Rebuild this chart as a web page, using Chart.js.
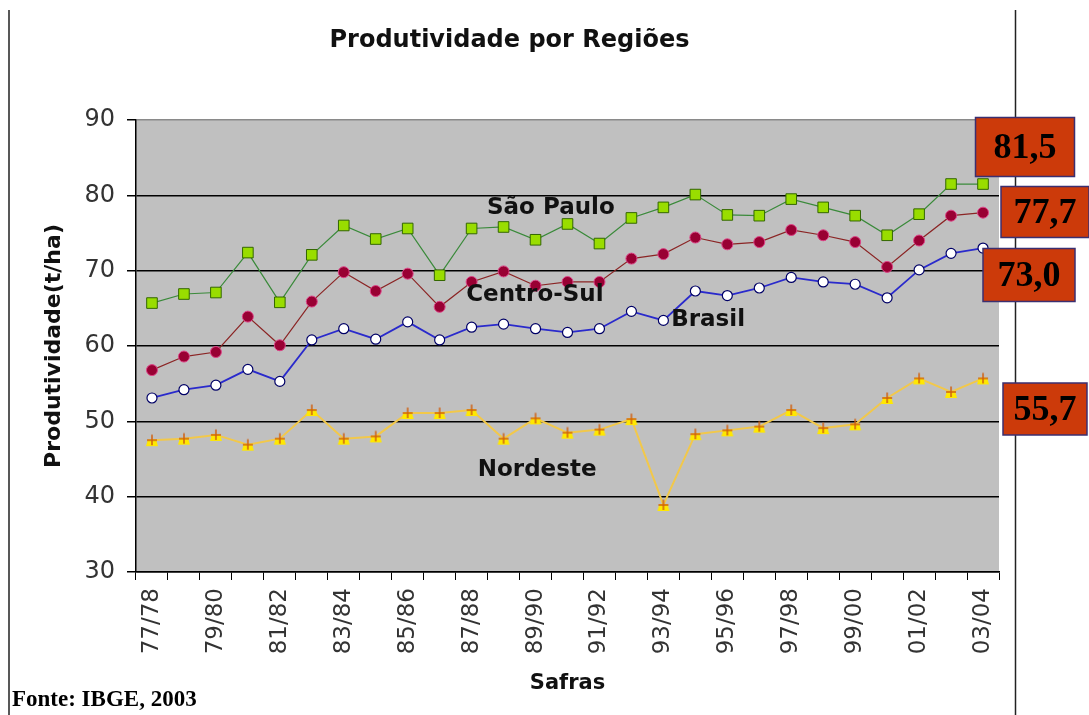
<!DOCTYPE html>
<html>
<head>
<meta charset="utf-8">
<script src="https://cdn.jsdelivr.net/npm/chart.js@4"></script>
<style>
  html, body { margin: 0; padding: 0; background: #fff; }
  #wrap { width: 1089px; height: 715px; }
</style>
</head>
<body>
<div id="wrap"><canvas id="chart" width="1089" height="715"></canvas></div>
<script>
const safras = ['77/78', '78/79', '79/80', '80/81', '81/82', '82/83', '83/84', '84/85', '85/86',
  '86/87', '87/88', '88/89', '89/90', '90/91', '91/92', '92/93', '93/94', '94/95', '95/96',
  '96/97', '97/98', '98/99', '99/00', '00/01', '01/02', '02/03', '03/04'];

const saoPaulo = [65.7, 66.9, 67.1, 72.4, 65.8, 72.1, 76.0, 74.2, 75.6, 69.4, 75.6, 75.8, 74.1, 76.2,
  73.6, 77.0, 78.4, 80.1, 77.4, 77.3, 79.5, 78.4, 77.3, 74.7, 77.5, 81.5, 81.5];
const centroSul = [56.8, 58.6, 59.2, 63.9, 60.1, 65.9, 69.8, 67.3, 69.6, 65.2, 68.5, 69.9, 68.0, 68.5,
  68.5, 71.6, 72.2, 74.4, 73.5, 73.8, 75.4, 74.7, 73.8, 70.5, 74.0, 77.3, 77.7];
const brasil = [53.1, 54.2, 54.8, 56.9, 55.3, 60.8, 62.3, 60.9, 63.2, 60.8, 62.5, 62.9, 62.3, 61.8,
  62.3, 64.6, 63.4, 67.3, 66.7, 67.7, 69.1, 68.5, 68.2, 66.4, 70.1, 72.3, 73.0];
const nordeste = [47.5, 47.7, 48.2, 46.9, 47.7, 51.5, 47.7, 48.0, 51.1, 51.1, 51.5, 47.7, 50.4, 48.5,
  48.9, 50.3, 38.9, 48.3, 48.8, 49.3, 51.5, 49.1, 49.6, 53.1, 55.7, 53.9, 55.7];

const yTicks = [30, 40, 50, 60, 70, 80, 90];

// series name labels inside the plot: [text, category index, value]
const seriesLabels = [
  ['São Paulo', 12.48, 78.3],
  ['Centro-Sul', 11.98, 66.8],
  ['Brasil', 17.4, 63.45],
  ['Nordeste', 12.05, 43.5]
];

// boxes with the last value of each series (pixel centre, size)
const lastBoxes = [
  [saoPaulo, 1025, 147, 99, 59],
  [centroSul, 1045, 212, 88, 51],
  [brasil, 1029, 275, 92, 53],
  [nordeste, 1045, 409, 84, 52]
];

function fmt(v) {
  return v.toFixed(1).replace('.', ',');
}

function makeNordesteMarker() {
  const c = document.createElement('canvas');
  c.width = 14;
  c.height = 14;
  const g = c.getContext('2d');
  g.fillStyle = '#ffe800';
  g.beginPath();
  g.moveTo(1, 13);
  g.lineTo(3, 6);
  g.lineTo(11, 6);
  g.lineTo(13, 13);
  g.closePath();
  g.fill();
  g.strokeStyle = '#d06010';
  g.lineWidth = 1.5;
  g.beginPath();
  g.moveTo(7, 1.5);
  g.lineTo(7, 12);
  g.moveTo(2, 7);
  g.lineTo(12, 7);
  g.stroke();
  return c;
}

const decor = {
  id: 'decor',
  beforeDraw(chart) {
    const { ctx, chartArea: a } = chart;
    ctx.save();
    ctx.fillStyle = '#c0c0c0';
    ctx.fillRect(a.left, a.top, a.right - a.left, a.bottom - a.top);
    ctx.restore();
  },
  afterDraw(chart) {
    const { ctx } = chart;
    const xs = chart.scales.x, ys = chart.scales.y;
    ctx.save();

    // frame lines left and right
    ctx.strokeStyle = '#222';
    ctx.lineWidth = 1.5;
    ctx.beginPath();
    ctx.moveTo(9, 10); ctx.lineTo(9, 715);
    ctx.moveTo(1015.5, 10); ctx.lineTo(1015.5, 715);
    ctx.stroke();

    // series names
    ctx.fillStyle = '#111';
    ctx.font = 'bold 23px "DejaVu Sans"';
    ctx.textAlign = 'center';
    ctx.textBaseline = 'middle';
    seriesLabels.forEach(([t, i, v]) => {
      ctx.fillText(t, xs.getPixelForValue(i), ys.getPixelForValue(v));
    });

    // last value boxes
    lastBoxes.forEach(([arr, cx, cy, w, h]) => {
      ctx.fillStyle = '#cc3a0a';
      ctx.fillRect(cx - w / 2, cy - h / 2, w, h);
      ctx.strokeStyle = '#3b2f70';
      ctx.lineWidth = 1.5;
      ctx.strokeRect(cx - w / 2, cy - h / 2, w, h);
      ctx.fillStyle = '#000';
      ctx.font = 'bold 36px "Liberation Serif"';
      ctx.fillText(fmt(arr[arr.length - 1]), cx, cy + 2);
    });

    // source
    ctx.textAlign = 'left';
    ctx.textBaseline = 'alphabetic';
    ctx.font = 'bold 23px "Liberation Serif"';
    ctx.fillText('Fonte: IBGE, 2003', 12, 706);
    ctx.restore();
  }
};

new Chart(document.getElementById('chart'), {
  type: 'line',
  data: {
    labels: safras,
    datasets: [
      {
        label: 'São Paulo',
        data: saoPaulo,
        borderColor: '#3a8a3a',
        borderWidth: 1.2,
        pointStyle: 'rect',
        pointRadius: 7.5,
        pointBackgroundColor: '#99dd00',
        pointBorderColor: '#336600',
        pointBorderWidth: 1
      },
      {
        label: 'Centro-Sul',
        data: centroSul,
        borderColor: '#8b2525',
        borderWidth: 1.2,
        pointStyle: 'circle',
        pointRadius: 5.5,
        pointBackgroundColor: '#990033',
        pointBorderColor: '#dd4488',
        pointBorderWidth: 1
      },
      {
        label: 'Brasil',
        data: brasil,
        borderColor: '#2a2acc',
        borderWidth: 1.8,
        pointStyle: 'circle',
        pointRadius: 5,
        pointBackgroundColor: '#ffffff',
        pointBorderColor: '#000066',
        pointBorderWidth: 1.2
      },
      {
        label: 'Nordeste',
        data: nordeste,
        borderColor: '#f2c84a',
        borderWidth: 2,
        pointStyle: makeNordesteMarker(),
        pointRadius: 7
      }
    ]
  },
  options: {
    responsive: false,
    animation: false,
    events: [],
    layout: { padding: { left: 20, right: 90, top: 0, bottom: 0 } },
    plugins: {
      legend: { display: false },
      tooltip: { enabled: false },
      title: {
        display: true,
        text: 'Produtividade por Regiões',
        color: '#111',
        font: { family: 'DejaVu Sans', size: 24, weight: 'bold', lineHeight: 1.2 },
        padding: { top: 26, bottom: 65.2 }
      }
    },
    scales: {
      x: {
        type: 'category',
        offset: true,
        grid: {
          display: true,
          offset: true,
          drawOnChartArea: false,
          drawTicks: true,
          tickLength: 8,
          color: '#000'
        },
        border: { color: '#000', width: 1.5 },
        ticks: {
          autoSkip: false,
          maxRotation: 90,
          minRotation: 90,
          padding: 8,
          color: '#333',
          font: { family: 'DejaVu Sans', size: 23 },
          callback: (v, i) => (i % 2 === 0 ? safras[i] : '')
        },
        title: {
          display: true,
          text: 'Safras',
          color: '#111',
          font: { family: 'DejaVu Sans', size: 21, weight: 'bold', lineHeight: 1.2 },
          padding: { top: 4, bottom: 19 }
        },
        afterFit: (s) => { s.height = 143; }
      },
      y: {
        min: yTicks[0],
        max: yTicks[yTicks.length - 1],
        afterBuildTicks: (s) => { s.ticks = yTicks.map(v => ({ value: v })); },
        grid: {
          color: (c) => (c.tick && c.tick.value === 90 ? '#8a8a8a' : '#000'),
          tickColor: '#000',
          lineWidth: 1.5,
          tickLength: 9
        },
        border: { color: '#000', width: 1.5 },
        ticks: {
          padding: 12,
          color: '#333',
          font: { family: 'DejaVu Sans', size: 24 }
        },
        title: {
          display: true,
          text: 'Produtividade(t/ha)',
          color: '#111',
          font: { family: 'DejaVu Sans', size: 22, weight: 'bold', lineHeight: 1.2 },
          padding: { top: 21, bottom: 0 }
        },
        afterFit: (s) => { s.width = 116; }
      }
    }
  },
  plugins: [decor]
});
</script>
</body>
</html>
